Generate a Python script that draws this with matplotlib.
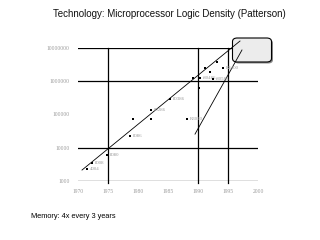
import matplotlib
matplotlib.use("Agg")
import matplotlib.pyplot as plt
from matplotlib.patches import FancyBboxPatch

# ---- data ----
chip_years = [1971.5, 1972.4, 1974.9, 1978.6, 1979.2, 1982.2, 1982.2, 1985.3,
              1988.2, 1989.2, 1990.3, 1990.2, 1991.2, 1992.0, 1992.5, 1993.2, 1994.2]
chip_transistors = [2300, 3600, 5900, 22000, 73000, 73000, 136000, 295000,
                    73000, 1260000, 1260000, 630000, 2500000, 1900000, 1170000, 3800000, 2500000]
chip_labels = ["4004", "8008", "8080", "8086", "", "", "80286", "80386",
               "R3010", "", "i80486", "", "", "", "i80586", "", "R4400"]

trend1_years = [1970.67, 1997.0]
trend1_values = [10 ** 3.33, 10 ** 7.21]
trend2_years = [1989.5, 1997.33]
trend2_values = [10 ** 4.41, 10 ** 6.94]

x_ticks = [1970, 1975, 1980, 1985, 1990, 1995, 2000]
y_ticks = [1000, 10000, 100000, 1000000, 10000000]
grid_years = [1975, 1990, 1995]
grid_values = [1000, 10000, 1000000, 10000000]

title = "Technology: Microprocessor Logic Density (Patterson)"
note = "Memory: 4x every 3 years"

# ---- figure ----
fig = plt.figure(figsize=(3.2, 2.4), dpi=100)
ax = fig.add_axes([78 / 320, 1 - 181 / 240, 180 / 320, 133 / 240])
ax.set_yscale("log")
ax.set_xlim(1970, 2000)
ax.set_ylim(1000, 10000000)
for s in ax.spines.values():
    s.set_visible(False)
ax.minorticks_off()
ax.patch.set_visible(False)

for v in grid_values:
    ax.axhline(v, color="black", lw=0.9, zorder=1)
for yr in grid_years:
    ax.plot([yr, yr], [10 ** 2.93, 1e7], color="black", lw=0.9, zorder=1, clip_on=False)

ax.set_xticks(x_ticks)
ax.set_xticklabels([str(t) for t in x_ticks])
ax.set_yticks(y_ticks)
ax.set_yticklabels([str(t) for t in y_ticks])
ax.tick_params(length=0, labelsize=4, labelcolor="#9a9a9a", pad=6)
for lab in ax.get_xticklabels() + ax.get_yticklabels():
    lab.set_family("Liberation Serif")

# rounded highlight box (under the trend lines)
shadow = FancyBboxPatch((234 / 320, 1 - 63.5 / 240), 39 / 320, 24 / 240,
                        boxstyle="round,pad=0,rounding_size=0.015",
                        transform=fig.transFigure, facecolor="#8a8a8a",
                        edgecolor="none", zorder=2, clip_on=False)
box = FancyBboxPatch((232.5 / 320, 1 - 62 / 240), 39 / 320, 24 / 240,
                     boxstyle="round,pad=0,rounding_size=0.015",
                     transform=fig.transFigure, facecolor="#ececec",
                     edgecolor="black", lw=0.8, zorder=2.5, clip_on=False)
ax.add_patch(shadow)
ax.add_patch(box)

ax.plot(trend1_years, trend1_values, color="black", lw=0.6, zorder=3, clip_on=False)
ax.plot(trend2_years, trend2_values, color="black", lw=0.6, zorder=3, clip_on=False)

ax.scatter(chip_years, chip_transistors, marker="s", s=2.0, color="black", zorder=4, linewidths=0)
for x, y, lab in zip(chip_years, chip_transistors, chip_labels):
    if lab:
        ax.annotate(lab, (x, y), xytext=(2, 0), textcoords="offset points",
                    fontsize=3.5, color="#9a9a9a", va="center", ha="left",
                    family="Liberation Serif")

fig.text(169 / 320, 1 - 14 / 240, title, ha="center", va="center",
         fontsize=7, family="Liberation Sans", color="#111111")
fig.text(31 / 320, 1 - 216 / 240, note, ha="left", va="center",
         fontsize=5.3, family="Liberation Sans", color="black")

fig.savefig("out.png", dpi=100)
